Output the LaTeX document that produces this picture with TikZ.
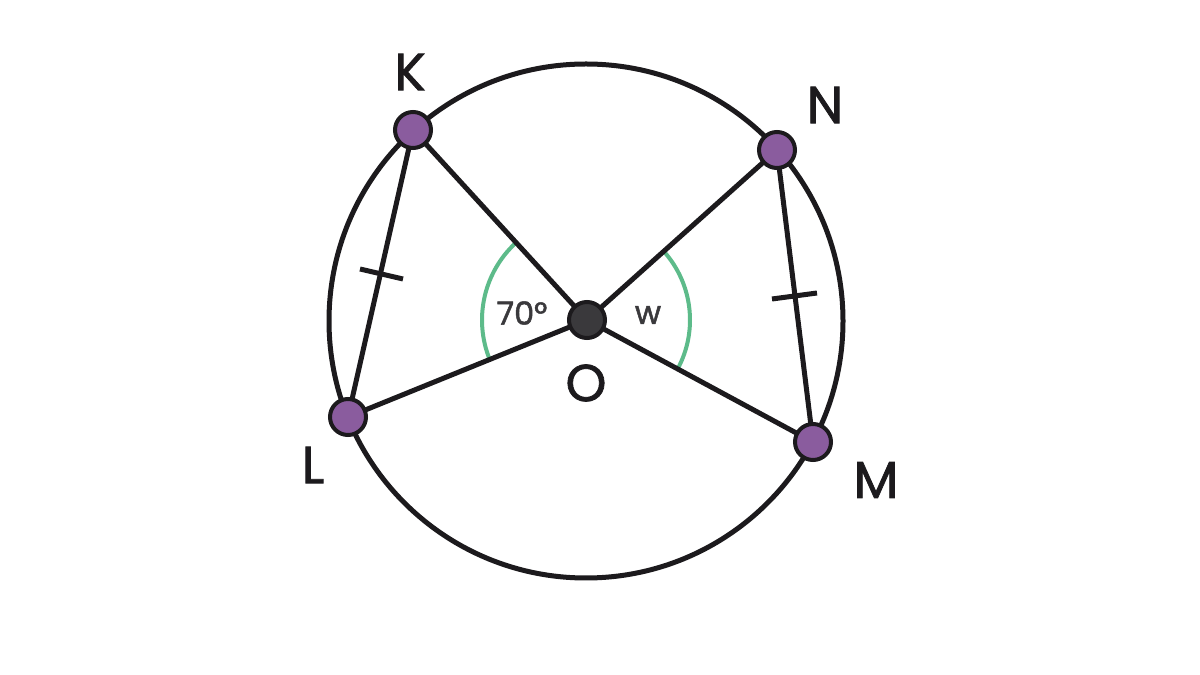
\documentclass[tikz,border=0pt]{standalone}
\usepackage{fontspec}
\setmainfont{Poppins}
\newfontfamily\labfont[FakeBold=1.5]{Poppins}
\definecolor{ink}{HTML}{1C1A1D}
\definecolor{pt}{HTML}{8A5C9E}
\definecolor{ctr}{HTML}{3A393C}
\definecolor{grn}{HTML}{5DBB8A}
\begin{document}
\begin{tikzpicture}[x=0.5pt,y=0.5pt,
  seg/.style={draw=ink,line width=2.5pt},
  pdot/.style={circle,fill=pt,draw=ink,line width=2pt,minimum size=18pt,inner sep=0pt},
  odot/.style={circle,fill=ctr,draw=ink,line width=2pt,minimum size=18pt,inner sep=0pt},
  lab/.style={font=\labfont\fontsize{26}{28}\selectfont,text=ink},
  anglab/.style={font=\labfont\fontsize{16}{18}\selectfont,text=ctr},
  garc/.style={draw=grn,line width=2pt},
  tick/.style={draw=ink,line width=2.5pt}]
\useasboundingbox (0,0) rectangle (1200,675);
\coordinate (C) at (586,354);
\coordinate (O) at (587,355);
\coordinate (K) at (413,545);
\coordinate (N) at (777,525);
\coordinate (L) at (348,258);
\coordinate (M) at (813,233);
\draw[seg] (C) circle[radius=257];
\draw[garc] ([shift={(132.5:105)}]O) arc[start angle=132.5,end angle=202,radius=105];
\draw[garc] ([shift={(-28.4:103)}]O) arc[start angle=-28.4,end angle=41.8,radius=103];
\draw[seg] (K) -- (L) -- (O) -- (K);
\draw[seg] (N) -- (M) -- (O) -- (N);
\coordinate (t1a) at (360,406);
\coordinate (t1b) at (403,396);
\coordinate (t2a) at (772,376);
\coordinate (t2b) at (817,382);
\draw[tick] (t1a) -- (t1b);
\draw[tick] (t2a) -- (t2b);
\node[pdot] (Kd) at (K) {};
\node[pdot] (Nd) at (N) {};
\node[pdot] (Ld) at (L) {};
\node[pdot] (Md) at (M) {};
\node[odot] (Od) at (O) {};
\node[lab] (Kl) at (410,603) {K};
\node[lab] (Nl) at (825,570) {N};
\node[lab] (Ll) at (313,210) {L};
\node[lab] (Ml) at (876,195) {M};
\node[lab] (Ol) at (586,292) {O};
\node[anglab] (a70) at (522,362) {70°};
\node[anglab] (aw) at (648,360) {w};
\end{tikzpicture}
\end{document}
